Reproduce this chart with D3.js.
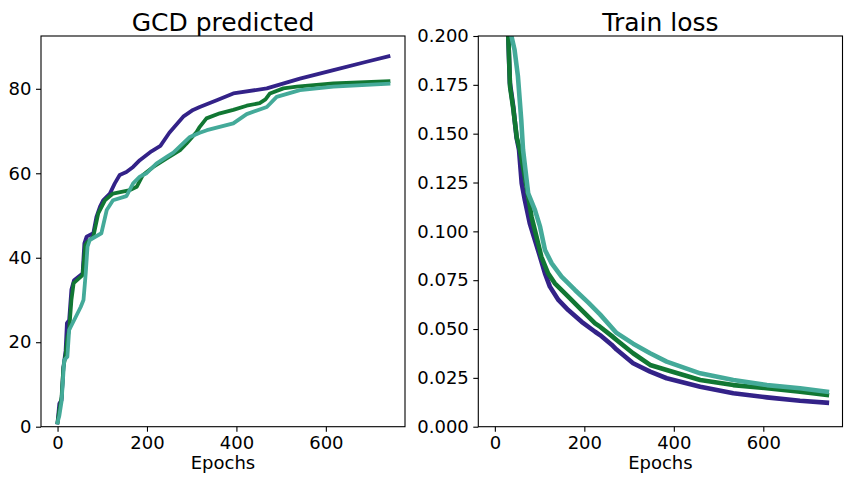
<!DOCTYPE html>
<html>
<head>
<meta charset="utf-8">
<script src="https://cdn.jsdelivr.net/npm/d3@7/dist/d3.min.js"></script>
<style>
  body { margin: 0; background: #fff; }
  svg { display: block; font-family: "DejaVu Sans", sans-serif; }
</style>
</head>
<body>
<svg id="chart" width="847" height="477"></svg>
<script>
// ---------------- DATA ----------------
const seriesNames = ["run A", "run B", "run C"];
const seriesColors = ["#332288", "#117733", "#44AA99"];

// GCD predicted (left panel)
const gcdEpochsA = [0, 4, 9, 13, 18, 21, 26, 31, 37, 56, 60, 65, 80, 87, 95, 102, 117, 128, 139, 154, 169, 184, 210, 230, 250, 281, 303, 318, 356, 393, 468, 542, 617, 691, 740];
const gcdValuesA = [1, 5.5, 6.3, 14, 18, 24.5, 25.2, 32.5, 34.7, 36.3, 43.4, 45, 45.8, 49.7, 52.1, 53.6, 55.2, 57.6, 59.6, 60.3, 61.5, 63.1, 65.2, 66.5, 69.6, 73.4, 75, 75.7, 77.3, 78.9, 80.1, 82.4, 84.4, 86.4, 87.7];

const gcdEpochsB = [0, 4, 9, 13, 18, 22, 26, 31, 36, 56, 62, 65, 80, 91, 106, 124, 162, 177, 191, 214, 244, 274, 288, 311, 318, 333, 363, 393, 423, 452, 465, 475, 505, 535, 617, 740];
const gcdValuesB = [1, 4, 7, 14, 17, 21, 23, 30, 34, 35.9, 43, 43.5, 45, 50.5, 53.6, 55.2, 56, 56.8, 59.6, 61.5, 63.5, 65.5, 67, 69.8, 71, 73, 74.2, 75, 76, 76.6, 77.5, 78.9, 80.1, 80.5, 81.3, 81.8];

const gcdEpochsC = [0, 4, 9, 15, 22, 26, 37, 52, 58, 63, 67, 72, 98, 110, 124, 154, 169, 184, 199, 221, 244, 259, 296, 318, 334, 393, 423, 468, 490, 542, 617, 740];
const gcdValuesC = [1, 2.6, 6, 15.8, 16.6, 22.9, 25.2, 28.4, 30, 36.3, 42.6, 44.2, 45.8, 51.3, 53.6, 54.6, 57.6, 59.2, 60, 62.3, 63.9, 64.9, 68.6, 69.6, 70.2, 71.8, 74, 75.7, 78.1, 79.7, 80.5, 81.2];

// Train loss (right panel)
const lossEpochsA = [0, 15, 25, 30, 33.5, 41, 48.5, 54, 60, 67, 78, 89.5, 101, 112, 123, 142, 164, 194, 224, 235, 261, 272, 309, 347, 384, 459, 533, 608, 682, 742];
const lossValuesA = [0.6, 0.35, 0.24, 0.2, 0.176, 0.164, 0.148, 0.1417, 0.1246, 0.116, 0.1041, 0.0956, 0.087, 0.0785, 0.0717, 0.0649, 0.0597, 0.0537, 0.0486, 0.0469, 0.042, 0.0395, 0.0325, 0.0282, 0.0248, 0.0205, 0.0171, 0.015, 0.0133, 0.0123];

const lossEpochsB = [0, 15, 25, 30, 34, 41, 49, 56, 71, 82, 93, 104, 119, 134, 164, 194, 224, 235, 261, 272, 309, 347, 384, 459, 533, 608, 682, 742];
const lossValuesB = [0.6, 0.35, 0.24, 0.2, 0.174, 0.163, 0.148, 0.1417, 0.1229, 0.1075, 0.0973, 0.087, 0.0785, 0.0734, 0.0666, 0.0597, 0.0529, 0.0512, 0.0465, 0.0444, 0.0376, 0.0316, 0.029, 0.0239, 0.0213, 0.0197, 0.0179, 0.0162];

const lossEpochsC = [0, 20, 37, 44, 51.5, 59, 63, 74.5, 89.5, 101, 112, 127, 149, 179, 209, 235, 272, 309, 347, 384, 459, 533, 608, 682, 742];
const lossValuesC = [0.65, 0.32, 0.2, 0.193, 0.1795, 0.157, 0.1417, 0.1195, 0.111, 0.1024, 0.0905, 0.0836, 0.0768, 0.07, 0.0635, 0.0575, 0.048, 0.0425, 0.0376, 0.0333, 0.0273, 0.0239, 0.0213, 0.0197, 0.0179];

const xTicks = [0, 200, 400, 600];
const gcdYTicks = [0, 20, 40, 60, 80];
const lossYTicks = [0, 0.025, 0.05, 0.075, 0.1, 0.125, 0.15, 0.175, 0.2];

const titles = ["GCD predicted", "Train loss"];
const xLabel = "Epochs";

// ---------------- DRAW ----------------
const svg = d3.select("#chart");

function zip(xs, ys) { return xs.map((x, i) => ({ x: x, y: ys[i] })); }

const panels = [
  {
    title: titles[0],
    box: { left: 41, right: 405, top: 36, bottom: 426.7 },
    yDomain: [0, 92.5],
    yTicks: gcdYTicks,
    yFormat: d3.format("d"),
    series: [zip(gcdEpochsA, gcdValuesA), zip(gcdEpochsB, gcdValuesB), zip(gcdEpochsC, gcdValuesC)],
    width: 3.8
  },
  {
    title: titles[1],
    box: { left: 478.3, right: 842.5, top: 36, bottom: 426.7 },
    yDomain: [0, 0.2],
    yTicks: lossYTicks,
    yFormat: d3.format(".3f"),
    series: [zip(lossEpochsA, lossValuesA), zip(lossEpochsB, lossValuesB), zip(lossEpochsC, lossValuesC)],
    width: 4.6
  }
];

panels.forEach((p, pi) => {
  const b = p.box;
  const x = d3.scaleLinear().domain([-37, 777]).range([b.left, b.right]);
  const y = d3.scaleLinear().domain(p.yDomain).range([b.bottom, b.top]);
  const g = svg.append("g");

  const clipId = "clip" + pi;
  svg.append("clipPath").attr("id", clipId)
    .append("rect").attr("x", b.left).attr("y", b.top)
    .attr("width", b.right - b.left).attr("height", b.bottom - b.top);

  const line = d3.line().x(d => x(d.x)).y(d => y(d.y));
  const lg = g.append("g").attr("clip-path", `url(#${clipId})`);
  p.series.forEach((s, si) => {
    lg.append("path").datum(s)
      .attr("d", line)
      .attr("fill", "none")
      .attr("stroke", seriesColors[si])
      .attr("stroke-width", p.width)
      .attr("stroke-linejoin", "round")
      .attr("stroke-linecap", "square");
  });

  // frame
  g.append("rect").attr("x", b.left).attr("y", b.top)
    .attr("width", b.right - b.left).attr("height", b.bottom - b.top)
    .attr("fill", "none").attr("stroke", "#000").attr("stroke-width", 1.1);

  const xa = g.append("g").attr("transform", `translate(0,${b.bottom})`)
    .call(d3.axisBottom(x).tickValues(xTicks).tickSize(5).tickPadding(4.5).tickFormat(d3.format("d")));
  const ya = g.append("g").attr("transform", `translate(${b.left},0)`)
    .call(d3.axisLeft(y).tickValues(p.yTicks).tickSize(5).tickPadding(4.5).tickFormat(p.yFormat));
  [xa, ya].forEach(a => {
    a.select(".domain").remove();
    a.selectAll("line").attr("stroke", "#000").attr("stroke-width", 1.1);
    a.selectAll("text").attr("fill", "#000")
      .style("font-family", "'DejaVu Sans', sans-serif").style("font-size", "18px");
  });

  g.append("text")
    .attr("x", (b.left + b.right) / 2).attr("y", 31)
    .attr("text-anchor", "middle")
    .style("font-size", "25px").attr("fill", "#000")
    .text(p.title);

  g.append("text")
    .attr("x", (b.left + b.right) / 2).attr("y", 469)
    .attr("text-anchor", "middle")
    .style("font-size", "18px").attr("fill", "#000")
    .text(xLabel);
});
</script>
</body>
</html>
